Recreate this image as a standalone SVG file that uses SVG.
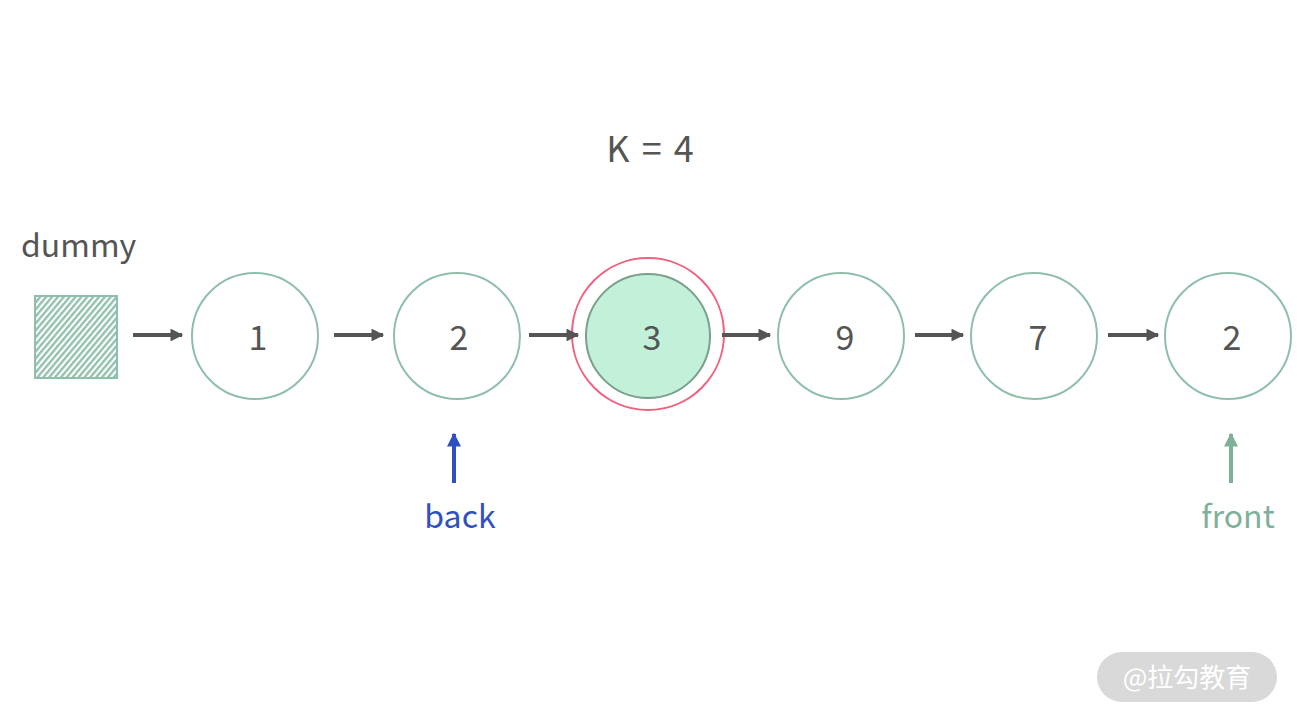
<svg xmlns="http://www.w3.org/2000/svg" width="1297" height="720" viewBox="0 0 1297 720">
<defs>
<style>
.node{fill:#fff;stroke:#8fbfaa;stroke-width:2}
.lbl{font-family:"Noto Sans CJK SC","Noto Sans",sans-serif;font-size:34px;fill:#555;text-anchor:middle}
.txt{font-family:"Noto Sans CJK SC","Noto Sans",sans-serif;font-size:32px;fill:#555}
.edge{stroke:#555;stroke-width:4;fill:none}
</style>
<marker id="ah" viewBox="0 0 10 10" refX="9" refY="5" markerWidth="3.5" markerHeight="3.2" orient="auto" markerUnits="strokeWidth">
<path d="M0,0 L10,5 L0,10 Z" fill="#555"/>
</marker>
<marker id="ahb" viewBox="0 0 10 10" refX="9" refY="5" markerWidth="3.5" markerHeight="3.5" orient="auto" markerUnits="strokeWidth">
<path d="M0,0 L10,5 L0,10 Z" fill="#3050c0"/>
</marker>
<marker id="ahf" viewBox="0 0 10 10" refX="9" refY="5" markerWidth="3.5" markerHeight="3.5" orient="auto" markerUnits="strokeWidth">
<path d="M0,0 L10,5 L0,10 Z" fill="#7fb09a"/>
</marker>
<pattern id="hatch" width="4.5" height="4.5" patternUnits="userSpaceOnUse" patternTransform="rotate(40)">
<rect width="4.5" height="4.5" fill="#fff"/>
<rect width="2.4" height="4.5" fill="#92c2ad"/>
</pattern>
</defs>
<rect width="1297" height="720" fill="#fff"/>
<text class="lbl" x="650" y="162" font-size="36" style="font-size:36px;word-spacing:4px">K = 4</text>
<g id="dummy">
<rect x="35" y="296" width="82" height="82" fill="url(#hatch)" stroke="#8fbfaa" stroke-width="2"/>
<text class="txt" x="21" y="257">dummy</text>
</g>
<g id="n1"><circle class="node" cx="255" cy="336" r="63"/><text class="lbl" x="258" y="350">1</text></g>
<g id="n2"><circle class="node" cx="457" cy="336" r="63"/><text class="lbl" x="459" y="350">2</text></g>
<g id="n3">
<circle cx="648" cy="334" r="76" fill="none" stroke="#f06080" stroke-width="2"/>
<circle cx="648" cy="336" r="62" fill="#c2f0d8" stroke="#7a9f8c" stroke-width="2"/>
<text class="lbl" x="652" y="350">3</text></g>
<g id="n4"><circle class="node" cx="841" cy="336" r="63"/><text class="lbl" x="845" y="350">9</text></g>
<g id="n5"><circle class="node" cx="1034" cy="336" r="63"/><text class="lbl" x="1038" y="350">7</text></g>
<g id="n6"><circle class="node" cx="1228" cy="336" r="63"/><text class="lbl" x="1232" y="350">2</text></g>
<g id="connectors">
<line class="edge" x1="133" y1="335" x2="182" y2="335" marker-end="url(#ah)"/>
<line class="edge" x1="334" y1="335" x2="383" y2="335" marker-end="url(#ah)"/>
<line class="edge" x1="529" y1="335" x2="578" y2="335" marker-end="url(#ah)"/>
<line class="edge" x1="722" y1="335" x2="770" y2="335" marker-end="url(#ah)"/>
<line class="edge" x1="915" y1="335" x2="963" y2="335" marker-end="url(#ah)"/>
<line class="edge" x1="1108" y1="335" x2="1158" y2="335" marker-end="url(#ah)"/>
<line x1="454" y1="483" x2="454" y2="434" stroke="#3050c0" stroke-width="4" marker-end="url(#ahb)"/>
<line x1="1231" y1="483" x2="1231" y2="434" stroke="#7fb09a" stroke-width="4" marker-end="url(#ahf)"/>
</g>
<g id="back"><text x="460" y="528" font-family="Noto Sans CJK SC, Noto Sans, sans-serif" font-size="32" fill="#3050c0" text-anchor="middle">back</text></g>
<g id="front"><text x="1238" y="528" font-family="Noto Sans CJK SC, Noto Sans, sans-serif" font-size="32" fill="#7fb09a" text-anchor="middle">front</text></g>
<g id="watermark">
<rect x="1097" y="652" width="180" height="50" rx="25" fill="#d9d9d9"/>
<text x="1187" y="687" font-family="Noto Sans CJK SC, sans-serif" font-size="26" fill="#fff" text-anchor="middle">@拉勾教育</text>
</g>
</svg>
